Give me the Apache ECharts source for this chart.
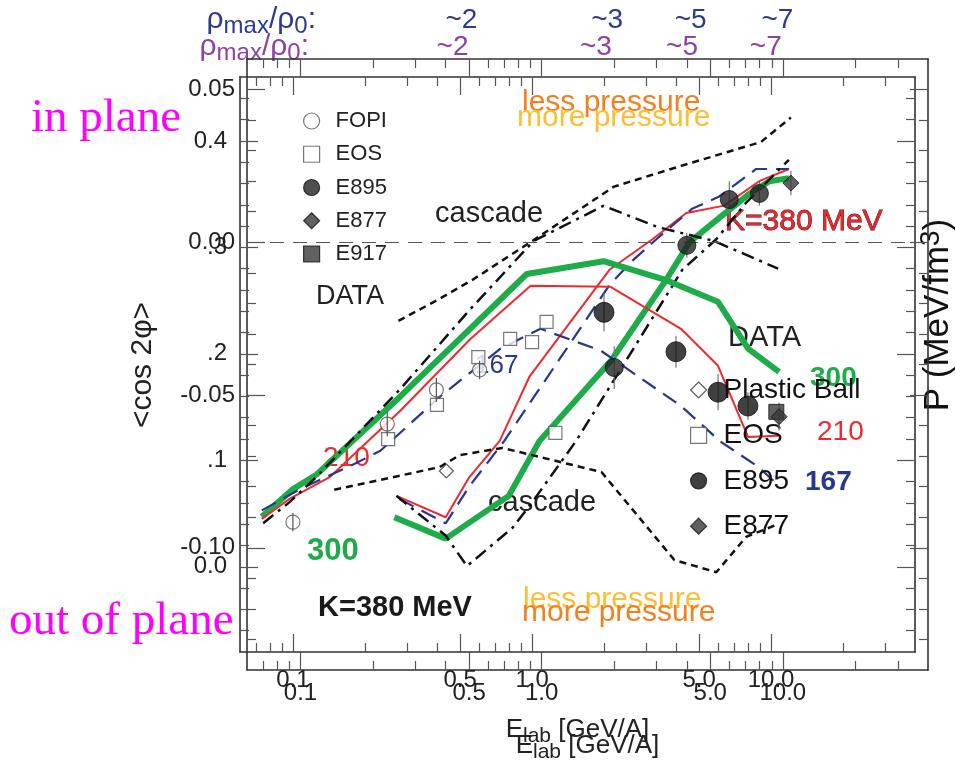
<!DOCTYPE html>
<html><head><meta charset="utf-8">
<script src="https://cdn.jsdelivr.net/npm/echarts@6/dist/echarts.min.js"></script>
<style>html,body{margin:0;padding:0;background:#fff}#c{width:956px;height:760px}</style>
</head><body><div id="c"></div>
<script>
// ---------- axes ----------
const E_MIN = 0.06, E_MAX = 40;
const xMajorE = [0.1, 0.5, 1, 5, 10];
const xMajorText = ['0.1', '0.5', '1.0', '5.0', '10.0'];
const xMinorE = [0.07, 0.08, 0.09, 0.2, 0.3, 0.4, 0.6, 0.7, 0.8, 0.9, 2, 3, 4, 6, 7, 8, 9, 20, 30];
const rhoText = ['~2', '~3', '~5', '~7'];
const rhoA_E = [0.465, 1.87, 4.15, 9.5];
const rhoB_E = [0.465, 1.85, 4.24, 9.5];

const yA_MIN = -0.14, yA_MAX = 0.06;
const yAMajor = [-0.10, -0.05, 0, 0.05];
const yAMajorText = ['-0.10', '-0.05', '0.00', '0.05'];
const yAMinor = [-0.13, -0.12, -0.11, -0.09, -0.08, -0.07, -0.06, -0.04, -0.03, -0.02, -0.01, 0.01, 0.02, 0.03, 0.04];

const yB_MIN = -0.08, yB_MAX = 0.46;
const yBMajor = [0, 0.1, 0.2, 0.3, 0.4];
const yBMajorText = ['0.0', '.1', '.2', '.3', '0.4'];
const yBMinor = [-0.06, -0.04, -0.02, 0.02, 0.04, 0.06, 0.08, 0.12, 0.14, 0.16, 0.18, 0.22, 0.24, 0.26, 0.28, 0.32, 0.34, 0.36, 0.38, 0.42, 0.44];

// ---------- panel A : <cos 2phi> ----------
const greenA_E = [0.245, 0.40, 0.73, 0.98, 1.95, 3.3, 4.1, 5.45, 7.3, 8.8, 10.6];
const greenA_v = [-0.090, -0.097, -0.083, -0.065, -0.0385, -0.012, 0.000, 0.008, 0.016, 0.020, 0.021];
const redA_E = [0.25, 0.40, 0.50, 0.67, 0.89, 1.91, 2.88, 3.98, 5.72, 7.98, 10.6];
const redA_v = [-0.083, -0.090, -0.077, -0.065, -0.044, -0.009, 0.001, 0.0096, 0.012, 0.020, 0.024];
const blueA_E = [0.257, 0.40, 0.50, 0.70, 1.18, 1.91, 2.38, 2.99, 4.21, 5.45, 7.76, 10.6];
const blueA_v = [-0.084, -0.092, -0.080, -0.065, -0.0385, -0.014, -0.006, 0.001, 0.011, 0.015, 0.024, 0.024];
const dashDotA_E = [0.25, 0.40, 0.49, 0.756, 0.915, 1.39, 2.31, 3.83, 5.3, 7.05, 10.6];
const dashDotA_v = [-0.083, -0.096, -0.106, -0.0935, -0.085, -0.065, -0.037, -0.009, 0.001, 0.013, 0.027];
const dashedA_E = [0.138, 0.377, 0.456, 0.687, 1.77, 3.55, 5.3, 7.05, 9.39];
const dashedA_v = [-0.081, -0.0736, -0.0697, -0.0673, -0.0752, -0.104, -0.108, -0.0964, -0.0925];

const fopiE = [0.093, 0.229, 0.366, 0.553];
const fopiV = [-0.0916, -0.0595, -0.0483, -0.0418];
const fopiErr = [0.003, 0.004, 0.004, 0.003];
const eosA_E = [1.14];
const eosA_V = [-0.0624];
const e895A_E = [2, 4, 6, 8];
const e895A_V = [-0.041, -0.001, 0.014, 0.016];
const e895A_Err = [0.007, 0.004, 0.006, 0.004];
const e877A_E = [10.8];
const e877A_V = [0.0194];
const e877A_Err = [0.004];
const e917A_E = [9.4];
const e917A_V = [-0.0555];

// ---------- panel B : P / flow ----------
const greenB_E = [0.074, 0.10, 0.126, 0.281, 0.95, 1.99, 3.56, 5.99, 8.01, 10.8];
const greenB_v = [0.047, 0.073, 0.087, 0.160, 0.275, 0.287, 0.270, 0.249, 0.205, 0.183];
const redB_E = [0.074, 0.097, 0.143, 0.281, 0.552, 0.986, 2.13, 4.2, 5.99, 8.01, 10.7];
const redB_v = [0.045, 0.064, 0.0845, 0.1465, 0.214, 0.264, 0.263, 0.2235, 0.189, 0.122, 0.123];
const blueB_E = [0.074, 0.107, 0.182, 0.232, 0.413, 0.738, 1.085, 1.94, 4.2, 6.11, 8.82, 10.8];
const blueB_v = [0.053, 0.073, 0.097, 0.109, 0.160, 0.205, 0.2235, 0.203, 0.151, 0.118, 0.094, 0.076];
const dashDotB_E = [0.075, 0.097, 0.126, 0.281, 0.552, 1.015, 1.99, 3.36, 5.77, 10.7];
const dashDotB_v = [0.041, 0.061, 0.085, 0.167, 0.242, 0.306, 0.339, 0.319, 0.306, 0.280];
const dashedB_E = [0.276, 0.413, 0.568, 0.986, 2.2, 4.2, 9.08, 12.1];
const dashedB_v = [0.231, 0.252, 0.270, 0.305, 0.357, 0.3765, 0.399, 0.422];

const plasticE = [0.438];
const plasticV = [0.090];
const eosB_E = [0.25, 0.40, 0.596, 0.81, 1.0, 1.15];
const eosB_V = [0.120, 0.152, 0.197, 0.214, 0.211, 0.230];
const e895B_E = [2, 4, 6, 8];
const e895B_V = [0.239, 0.202, 0.164, 0.151];
const e895B_Err = [0.018, 0.015, 0.017, 0.013];
const e877B_E = [10.8];
const e877B_V = [0.141];
const e877B_Err = [0.013];

// ---------- build ----------
const FAM = '"Liberation Sans", Arial, Helvetica, sans-serif';
const SERIF = '"Liberation Serif", "Times New Roman", serif';
const LOG = v => Math.log10(v);
const AXC = '#333', TKC = '#555';
const GREEN = '#1fab4a', RED = '#ee2a2e', BLUE = '#27368f';
const ORANGE = '#f47f20', YELLOW = '#fbbf33';

function fmtFrom(vals, texts, tx) {
  return v => { for (let i = 0; i < vals.length; i++) if (Math.abs(tx(vals[i]) - v) < 1e-6) return texts[i]; return ''; };
}
const id = v => v;
const pts = (E, v) => E.map((e, i) => [LOG(e), v[i]]);

function xAxes(g, c) {
  const base = { gridIndex: g, type: 'value', min: LOG(E_MIN), max: LOG(E_MAX), splitLine: { show: false }, axisPointer: { show: false } };
  const line = { show: true, onZero: false, lineStyle: { color: AXC, width: 1.6 } };
  const noLine = { show: false, onZero: false };
  const tickMaj = { show: true, inside: true, length: 18, customValues: xMajorE.map(LOG), lineStyle: { color: TKC, width: 1.2 } };
  const tickMin = { show: true, inside: true, length: 9, customValues: xMinorE.map(LOG), lineStyle: { color: TKC, width: 1.2 } };
  return [
    Object.assign({}, base, { position: 'bottom', axisLine: line, axisTick: tickMaj,
      axisLabel: { show: true, customValues: xMajorE.map(LOG), formatter: fmtFrom(xMajorE, xMajorText, LOG), fontSize: 24, fontFamily: FAM, color: '#222', margin: c.labelMargin },
      name: '{a|E}{b|lab}{a| [GeV/A]}', nameLocation: 'middle', nameGap: c.nameGap, nameMoveOverlap: false,
      nameTextStyle: { rich: { a: { fontSize: 26, fontFamily: FAM, color: '#222', lineHeight: 30 }, b: { fontSize: 21, fontFamily: FAM, color: '#222', lineHeight: 21, padding: [12, 0, 0, 0] } } } }),
    Object.assign({}, base, { position: 'bottom', axisLine: noLine, axisTick: tickMin, axisLabel: { show: false } }),
    Object.assign({}, base, { position: 'top', axisLine: line, axisTick: tickMaj, axisLabel: { show: false } }),
    Object.assign({}, base, { position: 'top', axisLine: noLine, axisTick: tickMin,
      axisLabel: { show: true, customValues: c.rhoE.map(LOG), formatter: fmtFrom(c.rhoE, rhoText, LOG), fontSize: 28, fontFamily: FAM, color: c.rhoColor, margin: c.rhoMargin } })
  ];
}
function yAxes(g, c) {
  const base = { gridIndex: g, type: 'value', min: c.min, max: c.max, splitLine: { show: false }, axisPointer: { show: false } };
  const line = { show: true, onZero: false, lineStyle: { color: AXC, width: 1.6 } };
  const noLine = { show: false, onZero: false };
  const tickMaj = { show: true, inside: true, length: 18, customValues: c.major, lineStyle: { color: TKC, width: 1.2 } };
  const tickMin = { show: true, inside: true, length: 9, customValues: c.minor, lineStyle: { color: TKC, width: 1.2 } };
  return [
    Object.assign({}, base, { position: 'left', axisLine: line, axisTick: tickMaj,
      axisLabel: { show: true, customValues: c.major, formatter: fmtFrom(c.major, c.text, id), fontSize: 24, fontFamily: FAM, color: '#222', margin: c.labelMargin } }),
    Object.assign({}, base, { position: 'left', axisLine: noLine, axisTick: tickMin, axisLabel: { show: false } }),
    Object.assign({}, base, { position: 'right', axisLine: line, axisTick: tickMaj, axisLabel: { show: false } }),
    Object.assign({}, base, { position: 'right', axisLine: noLine, axisTick: tickMin, axisLabel: { show: false } })
  ];
}

function lineS(name, xi, E, v, style, z) {
  return { type: 'line', name, xAxisIndex: xi, yAxisIndex: xi, data: pts(E, v), symbol: 'none', silent: true, z: z || 3,
    lineStyle: style, emphasis: { disabled: true } };
}
function scat(name, xi, E, v, symbol, size, itemStyle, z) {
  return { type: 'scatter', name, xAxisIndex: xi, yAxisIndex: xi, data: pts(E, v), symbol, symbolSize: size, itemStyle, silent: true, z: z || 5, emphasis: { disabled: true } };
}
function errS(xi, E, v, err, color, z) {
  return { type: 'custom', xAxisIndex: xi, yAxisIndex: xi, silent: true, z,
    data: E.map((e, i) => [LOG(e), v[i], err[i]]), encode: { x: 0, y: 1 },
    renderItem: (p, api) => {
      const a = api.coord([api.value(0), api.value(1) + api.value(2)]);
      const b = api.coord([api.value(0), api.value(1) - api.value(2)]);
      return { type: 'line', shape: { x1: a[0], y1: a[1], x2: b[0], y2: b[1] }, style: { stroke: color, lineWidth: 1.2 } };
    } };
}

const DASHDOT = [13, 6, 3, 6], SHORTDASH = [7, 5], LONGDASH = [16, 9];
const A = 0, B = 4;

const series = [
  // panel A curves
  Object.assign(lineS('greenA', A, greenA_E, greenA_v, { color: GREEN, width: 6 }, 3), {
    markLine: { silent: true, symbol: ['none', 'none'], label: { show: false }, data: [{ yAxis: 0 }], lineStyle: { color: '#555', width: 1, type: [14, 9] } } }),
  lineS('redA', A, redA_E, redA_v, { color: RED, width: 2 }),
  lineS('blueA', A, blueA_E, blueA_v, { color: BLUE, width: 2.2, type: LONGDASH }),
  lineS('ddA', A, dashDotA_E, dashDotA_v, { color: '#111', width: 2.5, type: DASHDOT }),
  lineS('dA', A, dashedA_E, dashedA_v, { color: '#111', width: 2.5, type: SHORTDASH }),
  // panel B curves
  lineS('greenB', B, greenB_E, greenB_v, { color: GREEN, width: 6 }),
  lineS('redB', B, redB_E, redB_v, { color: RED, width: 2 }),
  lineS('blueB', B, blueB_E, blueB_v, { color: BLUE, width: 2.2, type: LONGDASH }),
  lineS('ddB', B, dashDotB_E, dashDotB_v, { color: '#111', width: 2.5, type: DASHDOT }),
  lineS('dB', B, dashedB_E, dashedB_v, { color: '#111', width: 2.5, type: SHORTDASH }),
  // error bars (under filled symbols)
  errS(A, e895A_E, e895A_V, e895A_Err, '#777', 4),
  errS(A, e877A_E, e877A_V, e877A_Err, '#777', 4),
  errS(B, e895B_E, e895B_V, e895B_Err, '#777', 4),
  errS(B, e877B_E, e877B_V, e877B_Err, '#777', 4),
  // panel A data
  scat('FOPI', A, fopiE, fopiV, 'circle', 14, { color: '#fff', borderColor: '#555', borderWidth: 1.2 }),
  scat('EOS', A, eosA_E, eosA_V, 'rect', 13, { color: '#fff', borderColor: '#555', borderWidth: 1.2 }),
  scat('E895', A, e895A_E, e895A_V, 'circle', 18, { color: '#232323', borderColor: '#111', borderWidth: 1 }),
  scat('E877', A, e877A_E, e877A_V, 'diamond', 16, { color: '#3a3a3a', borderColor: '#111', borderWidth: 1 }),
  scat('E917', A, e917A_E, e917A_V, 'rect', 15, { color: '#3a3a3a', borderColor: '#111', borderWidth: 1 }),
  errS(A, fopiE, fopiV, fopiErr, '#555', 6),
  // panel B data
  scat('Plastic Ball', B, plasticE, plasticV, 'diamond', 14, { color: '#fff', borderColor: '#333', borderWidth: 1.2 }),
  scat('EOS ', B, eosB_E, eosB_V, 'rect', 13, { color: '#fff', borderColor: '#555', borderWidth: 1.2 }),
  scat('E895 ', B, e895B_E, e895B_V, 'circle', 20, { color: '#111', borderColor: '#111', borderWidth: 1 }),
  scat('E877 ', B, e877B_E, e877B_V, 'diamond', 16, { color: '#3a3a3a', borderColor: '#111', borderWidth: 1 })
];

function txt(text, x, y, size, fill, o) {
  o = o || {};
  const el = { type: 'text', x, y, silent: true,
    style: { text, fill, fontSize: size, fontFamily: o.family || FAM, fontWeight: o.weight || 'normal',
      align: o.align || 'left', verticalAlign: 'middle' } };
  if (o.rotation) el.rotation = o.rotation;
  if (o.stroke) { el.style.stroke = o.stroke; el.style.lineWidth = o.lineWidth || 1; }
  if (o.rich) el.style.rich = o.rich;
  return el;
}
const rhoRich = c => ({ r: { fill: c, fontSize: 30, fontFamily: FAM, lineHeight: 34 }, s: { fill: c, fontSize: 24, fontFamily: FAM, lineHeight: 24, padding: [12, 0, 0, 0] } });

const graphics = [
  txt('in plane', 31, 119, 47, '#ff00ff', { family: SERIF }),
  txt('out of plane', 9, 622, 47, '#ff00ff', { family: SERIF }),
  txt('{r|ρ}{s|max}{r|/ρ}{s|0}{r|:}', 316, 20, 30, '#2e3a8c', { align: 'right', rich: rhoRich('#2e3a8c') }),
  txt('{r|ρ}{s|max}{r|/ρ}{s|0}{r|:}', 309, 47, 30, '#8b44a0', { align: 'right', rich: rhoRich('#8b44a0') }),
  txt('DATA', 316, 297, 27, '#222'),
  txt('cascade', 435, 214, 29, '#222'),
  txt('less pressure', 522, 103, 30, ORANGE),
  txt('more pressure', 517, 118, 30, YELLOW),
  txt('less pressure', 523, 600, 30, YELLOW),
  txt('more pressure', 522, 613, 30, ORANGE),
  txt('K=380 MeV', 318, 608, 29, '#1a1a1a', { weight: 'bold' }),
  txt('K=380 MeV', 725, 222, 30, '#e8262b', { stroke: '#3b0a0a', lineWidth: 0.8 }),
  txt('DATA', 728, 338, 29, '#222'),
  txt('300', 810, 378, 28, GREEN, { weight: 'bold' }),
  txt('210', 817, 432, 28, RED),
  txt('167', 805, 482, 28, BLUE, { weight: 'bold' }),
  txt('cascade', 488, 503, 29, '#222'),
  txt('167', 475, 366, 26, BLUE),
  txt('210', 323, 458, 28, RED),
  txt('300', 307, 551, 31, GREEN, { weight: 'bold' }),
  txt('<cos 2φ>', 143, 365, 30, '#222', { align: 'center', rotation: Math.PI / 2 }),
  txt('{a|P (MeV/fm}{b|3}{a|)}', 938, 315, 35, '#111', { align: 'center', rotation: Math.PI / 2,
    rich: { a: { fill: '#111', fontSize: 35, fontFamily: FAM, lineHeight: 40 }, b: { fill: '#111', fontSize: 28, fontFamily: FAM, lineHeight: 28, padding: [0, 0, 14, 0] } } })
];

const option = {
  animation: false,
  backgroundColor: '#fff',
  grid: [
    { left: 247, top: 59, width: 681, height: 611, containLabel: false, outerBoundsMode: 'none' },
    { left: 240, top: 77, width: 675, height: 575, containLabel: false, outerBoundsMode: 'none' }
  ],
  xAxis: [].concat(
    xAxes(0, { labelMargin: 11, nameGap: 61, rhoE: rhoA_E, rhoColor: '#2e3a8c', rhoMargin: 25 }),
    xAxes(1, { labelMargin: 16, nameGap: 63, rhoE: rhoB_E, rhoColor: '#8b44a0', rhoMargin: 16 })
  ),
  yAxis: [].concat(
    yAxes(0, { min: yA_MIN, max: yA_MAX, major: yAMajor, text: yAMajorText, minor: yAMinor, labelMargin: 12 }),
    yAxes(1, { min: yB_MIN, max: yB_MAX, major: yBMajor, text: yBMajorText, minor: yBMinor, labelMargin: 13 })
  ),
  legend: [
    { data: ['FOPI', 'EOS', 'E895', 'E877', 'E917'], orient: 'vertical', left: 303, top: 110, padding: 0,
      itemWidth: 16, itemHeight: 16, itemGap: 11.25,
      selectedMode: false, itemStyle: { borderWidth: 1.2 },
      textStyle: { fontSize: 22, fontFamily: FAM, color: '#222', padding: [0, 0, 0, 11] } },
    { data: ['Plastic Ball', 'EOS ', 'E895 ', 'E877 '], orient: 'vertical', left: 690, top: 376, padding: 0,
      itemWidth: 16, itemHeight: 16, itemGap: 17.4,
      selectedMode: false, itemStyle: { borderWidth: 1.2 }, formatter: n => n.trim(),
      textStyle: { fontSize: 28, fontFamily: FAM, color: '#111', padding: [0, 0, 0, 12] } }
  ],
  tooltip: { show: false },
  series,
  graphic: graphics
};

const chart = echarts.init(document.getElementById('c'), null, { renderer: 'canvas' });
chart.setOption(option);
</script></body></html>
